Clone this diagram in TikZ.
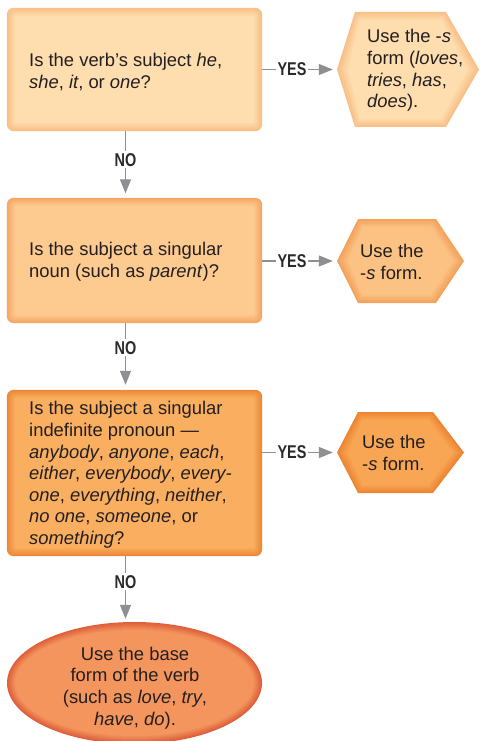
\documentclass[tikz,border=0pt]{standalone}
\usepackage{fontspec}
\setmainfont{Liberation Sans}
\newfontfamily\lblfont{Liberation Sans}[FakeStretch=0.78]
\usetikzlibrary{calc,arrows.meta,shapes.geometric}
\pgfdeclarelayer{background}
\pgfsetlayers{background,main}
\definecolor{ink}{HTML}{231F20}
\definecolor{lblink}{HTML}{2A2A2C}
\definecolor{arr}{HTML}{8E8F93}
\definecolor{aE}{HTML}{F8BF86}\definecolor{aC}{HTML}{FEDDAE}
\definecolor{bE}{HTML}{F4A663}\definecolor{bC}{HTML}{FDCB90}
\definecolor{cE}{HTML}{EC8836}\definecolor{cC}{HTML}{FAAE60}
\definecolor{dE}{HTML}{F3A15B}\definecolor{dC}{HTML}{FBC283}
\definecolor{eE}{HTML}{EC8533}\definecolor{eC}{HTML}{F9A654}
\definecolor{fE}{HTML}{DD5E3A}\definecolor{fC}{HTML}{F4955D}
\newcommand\glowbox[3]{%
  \foreach \i in {0,...,8}{%
    \pgfmathtruncatemacro\p{\i*12.5}%
    \pgfmathsetmacro\rc{max(7-0.6*\i,1.5)}%
    \fill[#3!\p!#2, rounded corners=\rc pt] ($(#1.north west)+(\i,\i)$) rectangle ($(#1.south east)-(\i,\i)$);}}
\newcommand\glowhex[8]{%
  \foreach \i in {0,...,8}{%
    \pgfmathtruncatemacro\p{\i*12.5}%
    \fill[#8!\p!#7] ({#1+1.4*\i},{(#5+#6)/2}) -- ({#2+0.6*\i},{#5+\i}) -- ({#3-0.6*\i},{#5+\i}) -- ({#4-1.4*\i},{(#5+#6)/2}) -- ({#3-0.6*\i},{#6-\i}) -- ({#2+0.6*\i},{#6-\i}) -- cycle;}}
\newcommand\glowell[3]{%
  \foreach \i in {0,...,8}{%
    \pgfmathtruncatemacro\p{\i*12.5}%
    \fill[#3!\p!#2] (#1.center) ellipse [x radius={127.5-\i}, y radius={61-\i}];}}
\tikzset{
  shapebox/.style={draw=none, inner sep=0pt, minimum width=#1},
  txt/.style={font=\fontsize{18.4}{21.6}\selectfont, text=ink, align=left, inner sep=0pt},
  flow/.style={draw=arr, line width=1.3pt, -{Triangle[length=14pt,width=11pt]}},
  lbl/.style={font=\lblfont\bfseries\fontsize{18.5}{19}\selectfont, text=lblink, fill=white, inner sep=1.8pt}
}
\begin{document}
\begin{tikzpicture}[x=1pt,y=-1pt]
\useasboundingbox (0,0) rectangle (479,741);
% shapes (invisible anchors)
\node[shapebox=255pt, minimum height=123pt] (q1) at (134.5,69.5) {};
\node[shapebox=255pt, minimum height=125pt] (q2) at (134.5,260.5) {};
\node[shapebox=255pt, minimum height=166pt] (q3) at (134.5,473) {};
\node[shapebox=142pt, minimum height=115pt] (h1) at (408,69.5) {};
\node[shapebox=127pt, minimum height=84pt] (h2) at (400.5,261) {};
\node[shapebox=127pt, minimum height=81pt] (h3) at (400.5,452.5) {};
\node[draw=none, ellipse, inner sep=0pt, minimum width=255pt, minimum height=122pt] (e) at (134.5,683) {};
% texts
\node[txt, anchor=west] (q1t) at (29,72) {Is the verb’s subject \textit{he},\\\textit{she}, \textit{it}, or \textit{one}?};
\node[txt, anchor=west] (q2t) at (29,262) {Is the subject a singular\\noun (such as \textit{parent})?};
\node[txt, anchor=west] (q3t) at (29,475) {Is the subject a singular\\indefinite pronoun ---\\\textit{anybody}, \textit{anyone}, \textit{each},\\\textit{either}, \textit{everybody}, \textit{every-}\\\textit{one}, \textit{everything}, \textit{neither},\\\textit{no one}, \textit{someone}, or\\\textit{something}?};
\node[txt, anchor=west] (h1t) at (367,70.5) {Use the -\textit{s}\\form (\textit{loves},\\\textit{tries}, \textit{has},\\\textit{does}).};
\node[txt, anchor=west] (h2t) at (360,262) {Use the\\-\textit{s} form.};
\node[txt, anchor=west] (h3t) at (362,453) {Use the\\-\textit{s} form.};
\node[txt, align=center] (et) at (135,688) {Use the base\\form of the verb\\(such as \textit{love}, \textit{try},\\\textit{have}, \textit{do}).};
% connectors
\draw[flow, shorten >=4pt] (q1.east) -- node[lbl, pos=0.4] (y1) {YES} (h1.west);
\draw[flow, shorten >=4pt] (q2.east |- h2.west) -- node[lbl, pos=0.4] (y2) {YES} (h2.west);
\draw[flow, shorten >=4pt] (q3.east |- h3.west) -- node[lbl, pos=0.4] (y3) {YES} (h3.west);
\draw[flow, shorten >=4.5pt] ($(q1.south)+(-9,0)$) -- node[lbl, pos=0.43] (n1) {NO} ($(q2.north)+(-9,0)$);
\draw[flow, shorten >=5pt] ($(q2.south)+(-9,0)$) -- node[lbl, pos=0.37] (n2) {NO} ($(q3.north)+(-9,0)$);
\draw[flow, shorten >=3pt] ($(q3.south)+(-9,0)$) -- node[lbl, pos=0.39] (n3) {NO} ($(e.north)+(-9,0)$);
\begin{pgfonlayer}{background}
\fill[white] (0,0) rectangle (479,741);
\glowbox{q1}{aE}{aC}
\glowbox{q2}{bE}{bC}
\glowbox{q3}{cE}{cC}
\glowhex{337}{355}{446}{479}{12}{127}{aE}{aC}
\glowhex{337}{358}{436}{464}{219}{303}{dE}{dC}
\glowhex{337}{358}{433}{464}{412}{493}{eE}{eC}
\glowell{e}{fE}{fC}
\end{pgfonlayer}
\end{tikzpicture}
\end{document}
